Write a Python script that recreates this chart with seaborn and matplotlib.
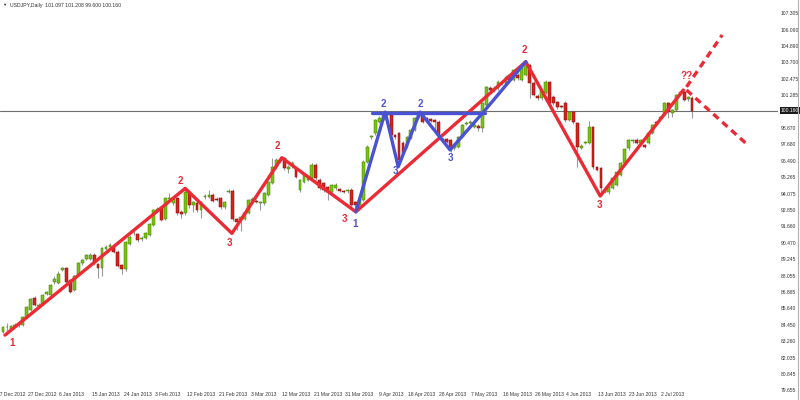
import numpy as np
import pandas as pd
import seaborn as sns
import matplotlib.pyplot as plt
import matplotlib.transforms as mtransforms

# USDJPY daily, one candle per bar
opens = [
    83.90, 84.25, 84.10, 84.35, 84.40, 84.43, 84.99, 85.52, 86.37, 85.80,
    85.96, 86.70, 86.62, 87.60, 87.48, 88.46, 88.58, 87.72, 86.99, 88.09,
    88.95, 89.28, 89.28, 89.56, 88.90, 88.58, 90.00, 90.18, 90.17, 89.80,
    88.80, 88.50, 90.37, 91.15, 91.08, 90.76, 90.78, 91.03, 91.76, 92.85,
    92.99, 92.18, 93.65, 93.35, 93.72, 92.70, 92.62, 94.15, 93.23, 93.35,
    92.86, 93.82, 93.84, 93.96, 93.70, 93.72, 93.06, 94.22, 94.28, 92.20,
    92.13, 92.20, 92.62, 93.55, 93.55, 93.35, 93.35, 93.96, 94.86, 95.99,
    96.55, 96.66, 95.90, 96.10, 95.92, 94.30, 94.92, 95.10, 95.20, 96.17,
    95.06, 94.82, 94.55, 94.20, 94.45, 94.40, 94.25, 94.24, 94.33, 93.45,
    93.23, 93.60, 96.40, 98.20, 98.49, 99.35, 99.47, 99.84, 99.84, 98.37,
    98.50, 97.78, 97.50, 98.15, 98.74, 99.70, 99.84, 99.60, 99.52, 99.47,
    99.35, 98.05, 98.05, 98.00, 97.39, 97.50, 98.22, 99.20, 99.28, 98.98,
    99.02, 98.86, 100.57, 101.84, 101.70, 101.80, 102.28, 102.15, 102.77, 102.41,
    102.77, 102.41, 102.77, 103.51, 102.16, 101.25, 101.08, 101.45, 102.26, 101.16,
    100.79, 100.50, 100.72, 99.47, 100.06, 99.25, 97.45, 97.80, 97.78, 98.96,
    96.02, 95.95, 94.22, 94.18, 94.48, 94.70, 95.43, 96.31, 97.41, 97.90,
    98.00, 97.78, 97.60, 97.78, 98.51, 99.32, 99.62, 99.84, 100.72, 99.98,
    100.20, 101.45, 101.52, 101.00, 101.097,
]
highs = [
    84.35, 84.55, 84.45, 84.55, 84.60, 85.05, 85.85, 86.40, 86.55, 86.00,
    86.70, 86.90, 87.40, 88.05, 88.40, 88.70, 88.70, 87.80, 88.10, 89.05,
    89.30, 89.65, 89.70, 89.70, 89.00, 90.15, 90.30, 90.45, 90.30, 89.90,
    88.90, 90.60, 91.00, 91.30, 91.20, 90.95, 91.25, 91.90, 92.95, 93.05,
    93.10, 93.80, 94.10, 93.80, 93.85, 92.85, 94.50, 94.30, 93.55, 93.50,
    93.55, 94.05, 94.30, 94.10, 93.80, 93.85, 93.55, 94.40, 94.40, 92.30,
    92.45, 92.75, 93.70, 93.80, 93.65, 93.55, 94.15, 95.00, 96.65, 96.70,
    96.75, 96.75, 96.20, 96.45, 96.05, 95.15, 95.55, 95.45, 96.30, 96.30,
    95.20, 94.95, 94.65, 94.80, 94.85, 94.50, 94.35, 94.40, 94.45, 93.55,
    93.70, 96.50, 97.65, 98.40, 99.55, 99.80, 99.95, 100.10, 99.95, 98.45,
    98.60, 97.90, 98.30, 98.85, 99.70, 100.00, 99.95, 99.70, 99.60, 99.55,
    99.45, 98.15, 98.15, 98.10, 97.75, 98.30, 99.20, 99.40, 99.50, 99.25,
    99.15, 100.80, 102.00, 102.00, 101.95, 102.40, 102.40, 102.80, 102.90, 103.25,
    102.90, 103.40, 103.75, 103.60, 102.30, 101.35, 101.70, 102.40, 102.35, 101.30,
    100.90, 100.60, 100.85, 100.15, 100.15, 99.35, 97.70, 97.95, 99.40, 99.05,
    96.10, 96.05, 94.40, 94.65, 95.30, 95.75, 96.40, 97.45, 98.10, 98.10,
    98.15, 98.10, 97.70, 98.60, 99.20, 99.40, 99.80, 100.80, 100.80, 100.30,
    101.40, 101.60, 101.65, 101.25, 101.208,
]
lows = [
    83.80, 83.95, 84.00, 84.25, 84.30, 84.35, 84.90, 85.45, 85.80, 85.70,
    85.90, 86.62, 86.55, 87.40, 87.40, 88.35, 87.50, 86.75, 86.90, 88.00,
    88.85, 89.20, 89.20, 88.85, 87.90, 88.05, 89.90, 90.10, 89.70, 88.65,
    88.15, 88.40, 90.30, 91.05, 90.55, 90.60, 90.70, 90.95, 91.70, 92.75,
    92.05, 92.10, 93.50, 93.25, 92.50, 92.30, 92.50, 93.00, 92.75, 92.75,
    92.28, 93.70, 93.75, 93.45, 93.50, 92.95, 92.95, 94.10, 92.05, 91.40,
    91.35, 92.10, 92.55, 93.45, 93.35, 92.85, 93.25, 93.90, 94.80, 95.90,
    96.30, 95.80, 95.60, 95.95, 95.20, 94.20, 94.85, 95.00, 95.10, 95.10,
    94.35, 94.20, 93.60, 94.10, 94.35, 94.15, 94.10, 94.10, 93.10, 92.75,
    92.90, 93.50, 96.30, 98.05, 98.40, 99.25, 99.40, 99.75, 98.25, 98.10,
    96.20, 96.95, 97.40, 98.05, 98.65, 99.60, 99.25, 99.40, 99.30, 98.60,
    98.25, 97.90, 97.75, 97.10, 97.30, 97.40, 98.15, 99.10, 99.15, 98.85,
    98.65, 98.60, 100.45, 101.55, 101.55, 101.70, 102.05, 102.05, 102.30, 102.30,
    102.40, 102.30, 102.70, 101.10, 101.20, 100.95, 100.95, 101.35, 100.60, 100.60,
    100.30, 100.35, 99.35, 99.40, 99.20, 96.05, 97.35, 97.70, 97.70, 95.90,
    95.70, 94.00, 94.10, 94.05, 94.40, 94.60, 95.35, 96.20, 97.30, 97.80,
    97.70, 97.70, 97.40, 97.70, 98.45, 99.15, 99.55, 99.75, 99.60, 99.70,
    100.10, 101.35, 100.85, 100.90, 99.600,
]
closes = [
    84.27, 84.28, 84.35, 84.45, 84.48, 84.99, 85.76, 86.33, 85.89, 85.90,
    86.62, 86.82, 87.34, 87.78, 88.16, 88.62, 87.60, 86.86, 88.03, 88.95,
    89.19, 89.53, 89.53, 88.95, 88.58, 90.05, 90.17, 90.28, 89.80, 88.75,
    88.50, 90.53, 90.90, 91.20, 90.66, 90.80, 91.15, 91.81, 92.86, 92.92,
    92.13, 93.72, 93.72, 93.65, 92.62, 92.58, 94.20, 93.20, 93.45, 92.86,
    93.45, 93.90, 93.96, 93.55, 93.60, 93.06, 93.45, 94.28, 92.18, 92.00,
    92.33, 92.62, 93.60, 93.65, 93.45, 93.47, 94.08, 94.94, 95.99, 96.55,
    96.45, 95.92, 96.05, 96.30, 95.30, 95.06, 95.43, 95.30, 96.17, 95.20,
    94.45, 94.33, 94.20, 94.70, 94.70, 94.28, 94.18, 94.26, 93.23, 93.23,
    93.60, 96.40, 97.50, 98.25, 99.47, 99.60, 99.84, 100.00, 98.37, 98.25,
    96.53, 97.05, 98.22, 98.74, 99.60, 99.82, 99.35, 99.50, 99.40, 99.35,
    98.37, 98.00, 97.88, 97.39, 97.63, 98.22, 99.10, 99.28, 99.35, 99.10,
    98.86, 100.70, 101.91, 101.67, 101.80, 102.28, 102.20, 102.65, 102.41, 103.14,
    102.52, 103.27, 103.68, 102.16, 101.30, 101.06, 101.60, 102.26, 100.72, 100.72,
    100.42, 100.45, 99.47, 100.06, 99.32, 97.49, 97.56, 97.85, 98.96, 96.02,
    95.80, 94.48, 94.30, 94.55, 95.21, 95.65, 96.31, 97.34, 98.00, 98.00,
    97.78, 98.00, 97.50, 98.51, 99.10, 99.25, 99.69, 100.72, 100.06, 100.20,
    101.30, 101.52, 100.94, 101.16, 100.160,
]

# wave lines drawn by hand on the chart (bar index, price)
red_x = [0.5, 46.0, 57.8, 70.4, 89.1, 132.0, 150.8, 171.8]
red_y = [83.68, 94.45, 91.15, 96.70, 92.73, 103.75, 93.89, 101.67]
red_up_x = [172.6, 181.6]
red_up_y = [101.90, 105.71]
red_down_x = [172.6, 188.1]
red_down_y = [101.67, 97.63]
blue_x = [89.1, 96.5, 99.8, 105.3, 112.9, 121.3, 132.0]
blue_y = [92.73, 100.05, 96.04, 100.05, 97.27, 100.05, 103.75]
blue_flat_x = [93.1, 121.6]
blue_flat_y = [100.02, 100.02]

red_labels = [("1", 2.3, 83.1), ("2", 44.7, 95.0), ("3", 57.3, 90.45), ("2", 69.2, 97.55),
              ("3", 86.1, 92.2), ("2", 131.6, 104.6), ("3", 150.5, 93.25), ("??", 172.7, 102.7)]
blue_labels = [("1", 88.9, 91.83), ("2", 96.0, 100.64), ("3", 99.0, 95.7),
               ("2", 105.3, 100.64), ("3", 112.9, 96.66)]

price_ticks = [107.305, 106.090, 104.890, 103.700, 102.475, 101.285, 98.870, 97.680,
               96.490, 95.265, 94.075, 92.850, 91.660, 90.470, 89.245, 88.055, 86.865,
               85.640, 84.450, 83.260, 82.035, 80.845, 79.655]
last_price = 100.160
date_pos = [2.0, 9.8, 17.4, 26.0, 34.1, 41.7, 50.0, 58.1, 65.7, 74.0, 82.1, 89.9,
            98.0, 105.8, 113.6, 121.5, 129.8, 137.9, 145.2, 153.8, 161.6, 169.2]
date_labels = ["17 Dec 2012", "27 Dec 2012", "6 Jan 2013", "15 Jan 2013", "24 Jan 2013",
               "3 Feb 2013", "12 Feb 2013", "21 Feb 2013", "3 Mar 2013", "12 Mar 2013",
               "21 Mar 2013", "31 Mar 2013", "9 Apr 2013", "18 Apr 2013", "28 Apr 2013",
               "7 May 2013", "16 May 2013", "26 May 2013", "4 Jun 2013", "13 Jun 2013",
               "23 Jun 2013", "2 Jul 2013"]

sns.set_style("white")
plt.rcParams["font.family"] = ["Liberation Sans", "DejaVu Sans"]

df = pd.DataFrame({"open": opens, "high": highs, "low": lows, "close": closes})
df["bar"] = np.arange(len(df))
df["up"] = df["close"] >= df["open"]

fig = plt.figure(figsize=(8, 4), dpi=100)
ax = fig.add_axes([0, 10 / 400, 778 / 800, 390 / 400])

RED = "#ec2a36"
BLUE = "#4a52d4"

# candles: wicks then bodies
ax.vlines(df["bar"], df["low"], df["high"], color="#9a9a9a", lw=0.8, zorder=1)
for up, face, edge in [(True, "#78c40e", "#3f7a00"), (False, "#d8221c", "#7a0c0c")]:
    sub = df[df["up"] == up]
    body = (sub["close"] - sub["open"]).abs().clip(lower=0.06)
    ax.bar(sub["bar"], body, bottom=sub[["open", "close"]].min(axis=1), width=0.72,
           color=face, edgecolor=edge, linewidth=0.35, zorder=2)

# last price line
ax.axhline(last_price, color="#6e6e6e", lw=0.8, zorder=1.5)

# wave lines
sns.lineplot(x=red_x, y=red_y, sort=False, color=RED, linewidth=2.4, ax=ax, zorder=3)
for xs, ys in [(red_up_x, red_up_y), (red_down_x, red_down_y)]:
    sns.lineplot(x=xs, y=ys, sort=False, color=RED, linewidth=2.4, ax=ax, zorder=3,
                 linestyle=(0, (2.1, 1.5)))
sns.lineplot(x=blue_x, y=blue_y, sort=False, color=BLUE, linewidth=2.4, ax=ax, zorder=4)
sns.lineplot(x=blue_flat_x, y=blue_flat_y, sort=False, color=BLUE, linewidth=2.4, ax=ax, zorder=4)

for txt, x, y in red_labels:
    ax.text(x, y, txt, color=RED, fontsize=7, fontweight="bold", ha="center", va="center", zorder=5)
for txt, x, y in blue_labels:
    ax.text(x, y, txt, color=BLUE, fontsize=7, fontweight="bold", ha="center", va="center", zorder=5)

ax.set_xlim(-0.76, 195.7)
ax.set_ylim(79.65, 108.28)

ax.yaxis.tick_right()
ax.set_yticks(price_ticks)
ax.set_yticklabels([f"{v:.3f}" for v in price_ticks], fontsize=3.6, color="#333333")
ax.set_xticks(date_pos)
ax.set_xticklabels(date_labels, fontsize=3.6, color="#333333")
ax.tick_params(axis="both", length=0, pad=2)
ax.tick_params(axis="x", pad=1.5)
for s in ax.spines.values():
    s.set_visible(False)
ax.set_xlabel("")
ax.set_ylabel("")

# current price tag on the price scale
trans = mtransforms.blended_transform_factory(ax.transAxes, ax.transData)
ax.text(1.004, last_price, f"{last_price:.3f}", transform=trans, fontsize=3.6, color="white",
        va="center", ha="left", bbox=dict(facecolor="#1a1a1a", edgecolor="none", pad=0.8))

# chart header
fig.text(0.003, 0.987, "\u25bc", fontsize=3.2, color="#333333", va="center", ha="left")
fig.text(0.012, 0.987, "USDJPY,Daily  101.097 101.208 99.600 100.160", fontsize=3.7,
         color="#333333", va="center", ha="left")

fig.add_artist(plt.Line2D([0.998, 0.998], [0, 1], color="#b0b0b0", lw=0.8))

fig.savefig("out.png", dpi=100)
